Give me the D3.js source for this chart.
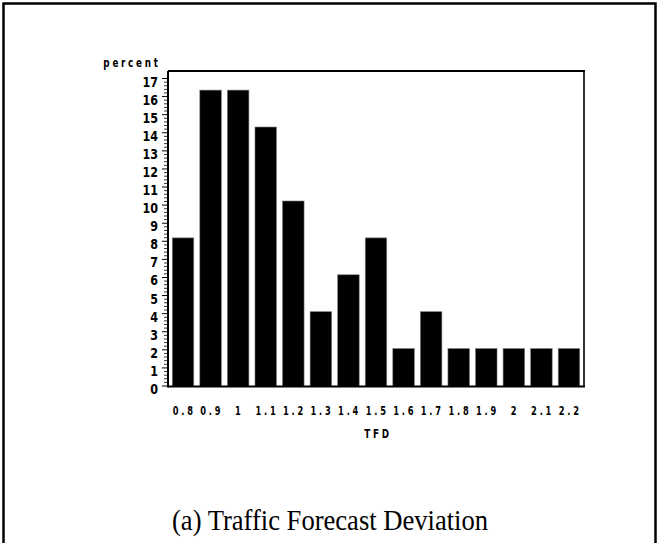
<!DOCTYPE html>
<html><head><meta charset="utf-8">
<script src="https://cdn.jsdelivr.net/npm/d3@7/dist/d3.min.js"></script>
<style>
html,body{margin:0;padding:0;background:#fff;}
svg{display:block;}
.lab{font-family:"DejaVu Sans Condensed","DejaVu Sans",sans-serif;fill:#000;}
</style></head>
<body>
<script>
const categories = ["0.8","0.9","1","1.1","1.2","1.3","1.4","1.5","1.6","1.7","1.8","1.9","2","2.1","2.2"];
const percentValues = [8.16,16.33,16.33,14.29,10.2,4.08,6.12,8.16,2.04,4.08,2.04,2.04,2.04,2.04,2.04];
const yTickValues = [0,1,2,3,4,5,6,7,8,9,10,11,12,13,14,15,16,17];
const yLabel = "percent";
const xLabel = "TFD";
const caption = "(a) Traffic Forecast Deviation";

const W = 657, H = 543;
const svg = d3.select("body").append("svg").attr("width", W).attr("height", H);
const FONT = '"DejaVu Sans Condensed","DejaVu Sans",sans-serif';

// outer frame (left, top, right edges)
svg.append("path").attr("d", "M3.5,543 L3.5,3.5 L655.5,3.5 L655.5,543")
  .attr("fill","none").attr("stroke","#000").attr("stroke-width",2.5);

const pLeft = 168, pRight = 584, pTop = 71, pBase = 386.5;
const x = d3.scaleBand().domain(categories).range([pLeft, pRight]).paddingInner(0.22).paddingOuter(0.155);
const y = d3.scaleLinear().domain([0, 17]).range([385.5, 78]);

// bars
svg.append("g").selectAll("rect").data(percentValues).join("rect")
  .attr("x", (d,i) => x(categories[i]))
  .attr("width", x.bandwidth())
  .attr("y", d => y(d))
  .attr("height", d => y(0) - y(d) + 1)
  .attr("fill", "#000")
  .attr("stroke", "#777").attr("stroke-width", 0.6);

// frame
svg.append("line").attr("x1",pLeft).attr("x2",pRight+1).attr("y1",pTop).attr("y2",pTop).attr("stroke","#000").attr("stroke-width",2);
svg.append("line").attr("x1",pRight).attr("x2",pRight).attr("y1",pTop).attr("y2",pBase).attr("stroke","#000").attr("stroke-width",1.6);
svg.append("line").attr("x1",pLeft).attr("x2",pRight+1).attr("y1",pBase).attr("y2",pBase).attr("stroke","#000").attr("stroke-width",2);
svg.append("line").attr("x1",pLeft).attr("x2",pLeft).attr("y1",pTop).attr("y2",pBase+1).attr("stroke","#000").attr("stroke-width",2);

// minor ticks
const minorVals = d3.range(0, 17.01, 0.2).filter(v => Math.abs(v - Math.round(v)) > 0.01);
const minorAxis = d3.axisLeft(y).tickValues(minorVals).tickSize(3).tickFormat("");
const gm = svg.append("g").attr("transform", `translate(${pLeft-1},0)`).call(minorAxis);
gm.select(".domain").remove();
gm.selectAll(".tick line").attr("stroke","#000").attr("stroke-width",0.8);

// major ticks
const yAxis = d3.axisLeft(y).tickValues(yTickValues).tickSize(5).tickPadding(4).tickFormat(d3.format("d"));
const gy = svg.append("g").attr("transform", `translate(${pLeft-1},0)`).call(yAxis);
gy.select(".domain").remove();
gy.selectAll(".tick line").attr("stroke","#000").attr("stroke-width",1);
gy.selectAll(".tick text").attr("class","lab").attr("font-size",13.5).attr("font-weight","bold")
  .attr("dy",null).attr("x",0).attr("y",0)
  .attr("transform","translate(-9,8) scale(0.92,1.05)")
  .style("font-family",FONT);

// x axis labels
const xAxis = d3.axisBottom(x).tickSize(0).tickPadding(0);
const gx = svg.append("g").attr("transform", `translate(0,${pBase})`).call(xAxis);
gx.select(".domain").remove();
gx.selectAll(".tick text").attr("class","lab").attr("font-size",11.5).attr("font-weight","bold")
  .attr("letter-spacing","3.5px").attr("dy",null).attr("x",1.5).attr("y",0)
  .attr("transform","translate(0,28) scale(0.8,1.1)")
  .style("font-family",FONT);

// axis titles
svg.append("text").attr("class","lab").attr("text-anchor","middle")
  .attr("transform","translate(132,67) scale(0.85,1.1)")
  .attr("font-size",11.5).attr("font-weight","bold").attr("letter-spacing","3.2px").text(yLabel);
svg.append("text").attr("class","lab").attr("text-anchor","middle")
  .attr("transform",`translate(${(pLeft+pRight)/2+2},438) scale(0.85,1.1)`)
  .attr("font-size",11.5).attr("font-weight","bold").attr("letter-spacing","3.2px").text(xLabel);

// caption
svg.append("text").attr("x",330).attr("y",530).attr("text-anchor","middle")
  .attr("font-family",'"Liberation Serif","Times New Roman",serif').attr("font-size",30)
  .attr("textLength",316).attr("lengthAdjust","spacingAndGlyphs")
  .attr("fill","#000").text(caption);
</script>
</body></html>
